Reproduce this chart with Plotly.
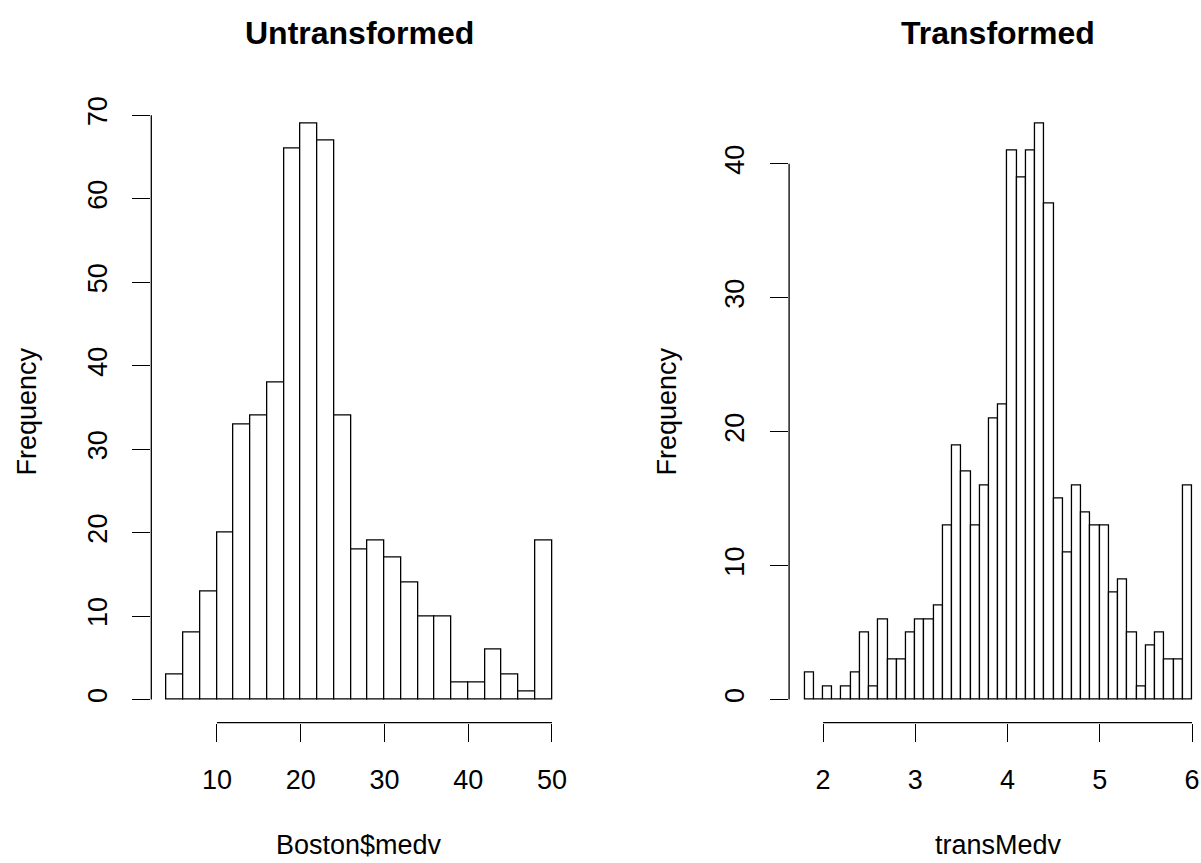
import plotly.graph_objects as go

# ---------------- data ----------------
# Left: Boston$medv histogram (bins of width 2 from 4 to 50)
left_edges = [4, 6, 8, 10, 12, 14, 16, 18, 20, 22, 24, 26, 28, 30, 32, 34, 36, 38, 40, 42, 44, 46, 48, 50]
left_counts = [3, 8, 13, 20, 33, 34, 38, 66, 69, 67, 34, 18, 19, 17, 14, 10, 10, 2, 2, 6, 3, 1, 19]

# Right: transMedv histogram (bins of width 0.1 from 1.8 to 6.0)
right_edges = [1.8, 1.9, 2.0, 2.1, 2.2, 2.3, 2.4, 2.5, 2.6, 2.7, 2.8, 2.9, 3.0, 3.1, 3.2, 3.3, 3.4,
               3.5, 3.6, 3.7, 3.8, 3.9, 4.0, 4.1, 4.2, 4.3, 4.4, 4.5, 4.6, 4.7, 4.8, 4.9, 5.0,
               5.1, 5.2, 5.3, 5.4, 5.5, 5.6, 5.7, 5.8, 5.9, 6.0]
right_counts = [2, 0, 1, 0, 1, 2, 5, 1, 6, 3, 3, 5, 6, 6, 7, 13, 19, 17, 13, 16, 21, 22,
                41, 39, 41, 43, 37, 15, 11, 16, 14, 13, 13, 8, 9, 5, 1, 4, 5, 3, 3, 16]

left_xticks = [10, 20, 30, 40, 50]
left_yticks = [0, 10, 20, 30, 40, 50, 60, 70]
right_xticks = [2, 3, 4, 5, 6]
right_yticks = [0, 10, 20, 30, 40]

titles = ["Untransformed", "Transformed"]
xlabels = ["Boston$medv", "transMedv"]
ylabel = "Frequency"

# ---------------- layout helpers ----------------
W, H = 1201, 863
FONT = "Liberation Sans, Arial, sans-serif"
FS = 27


def centers(edges):
    return [(a + b) / 2 for a, b in zip(edges[:-1], edges[1:])]


def widths(edges):
    return [b - a for a, b in zip(edges[:-1], edges[1:])]


def ext_range(lo, hi):
    d = (hi - lo) * 0.04
    return [lo - d, hi + d]


fig = go.Figure()

fig.add_trace(go.Bar(x=centers(left_edges), y=left_counts, width=widths(left_edges),
                     marker=dict(color="white", line=dict(color="black", width=1.3)),
                     xaxis="x", yaxis="y", showlegend=False, hoverinfo="x+y"))
fig.add_trace(go.Bar(x=centers(right_edges), y=right_counts, width=widths(right_edges),
                     marker=dict(color="white", line=dict(color="black", width=1.3)),
                     xaxis="x2", yaxis="y2", showlegend=False, hoverinfo="x+y"))

# plot region in pixels
top_px, bot_px = 97, 722
ydom = [(H - bot_px) / H, (H - top_px) / H]

lx_rng = ext_range(left_edges[0], left_edges[-1])
ly_rng = ext_range(0, max(left_counts))
rx_full = ext_range(right_edges[0], right_edges[-1])
ry_rng = ext_range(0, max(right_counts))

left_x0_px, left_x1_px = 151.3, 567.4
right_x0_px = 789.1
# right panel scale: 2 at 823 px, 6 at 1192 px
r_ppu = (1192 - 823) / 4.0
right_x1_px = W
rx_rng = [rx_full[0], rx_full[0] + (right_x1_px - right_x0_px) / r_ppu]

TL = 18
STAND = 15
common_x = dict(showgrid=False, zeroline=False, showline=False, ticks="outside",
                ticklen=TL, tickwidth=1.3, tickcolor="black", ticklabelstandoff=STAND,
                tickfont=dict(family=FONT, size=FS, color="black"), fixedrange=True)
common_y = dict(showgrid=False, zeroline=False, showline=False, ticks="outside",
                ticklen=TL, tickwidth=1.3, tickcolor="black", tickangle=-90,
                ticklabelstandoff=STAND,
                tickfont=dict(family=FONT, size=FS, color="black"), fixedrange=True)

fig.update_layout(
    width=W, height=H, margin=dict(l=0, r=0, t=0, b=0),
    paper_bgcolor="white", plot_bgcolor="white", bargap=0,
    xaxis=dict(domain=[left_x0_px / W, left_x1_px / W], range=lx_rng,
               tickvals=left_xticks, ticktext=[str(v) for v in left_xticks], anchor="y",
               **common_x),
    yaxis=dict(domain=ydom, range=ly_rng, tickvals=left_yticks,
               ticktext=[str(v) for v in left_yticks], anchor="x", **common_y),
    xaxis2=dict(domain=[right_x0_px / W, right_x1_px / W], range=rx_rng,
                tickvals=right_xticks, ticktext=[str(v) for v in right_xticks], anchor="y2",
                **common_x),
    yaxis2=dict(domain=ydom, range=ry_rng, tickvals=right_yticks,
                ticktext=[str(v) for v in right_yticks], anchor="x2", **common_y),
)

# axis lines spanning only from first to last tick (R style)
line = dict(color="black", width=1.3)
for xa, ya, xt, yt in [("x", "y", left_xticks, left_yticks), ("x2", "y2", right_xticks, right_yticks)]:
    fig.add_shape(type="line", xref=xa, yref=f"{ya} domain", x0=xt[0], x1=xt[-1], y0=0, y1=0, line=line)
    fig.add_shape(type="line", xref=f"{xa} domain", yref=ya, x0=0, x1=0, y0=yt[0], y1=yt[-1], line=line)

# titles and axis labels
for i, cx in enumerate([(left_x0_px + left_x1_px) / 2, (right_x0_px + 1207.5) / 2]):
    fig.add_annotation(text=f"<b>{titles[i]}</b>", xref="paper", yref="paper",
                       x=cx / W, y=(H - 29) / H, showarrow=False, xanchor="center", yanchor="middle",
                       font=dict(family=FONT, size=int(FS * 1.2), color="black"))
    fig.add_annotation(text=xlabels[i], xref="paper", yref="paper",
                       x=cx / W, y=(H - 845) / H, showarrow=False, xanchor="center", yanchor="middle",
                       font=dict(family=FONT, size=FS, color="black"))

for px in [27, 667]:
    fig.add_annotation(text=ylabel, xref="paper", yref="paper", textangle=-90,
                       x=px / W, y=(H - (top_px + bot_px) / 2) / H, showarrow=False,
                       xanchor="center", yanchor="middle",
                       font=dict(family=FONT, size=FS, color="black"))

fig.write_html("out.html")
